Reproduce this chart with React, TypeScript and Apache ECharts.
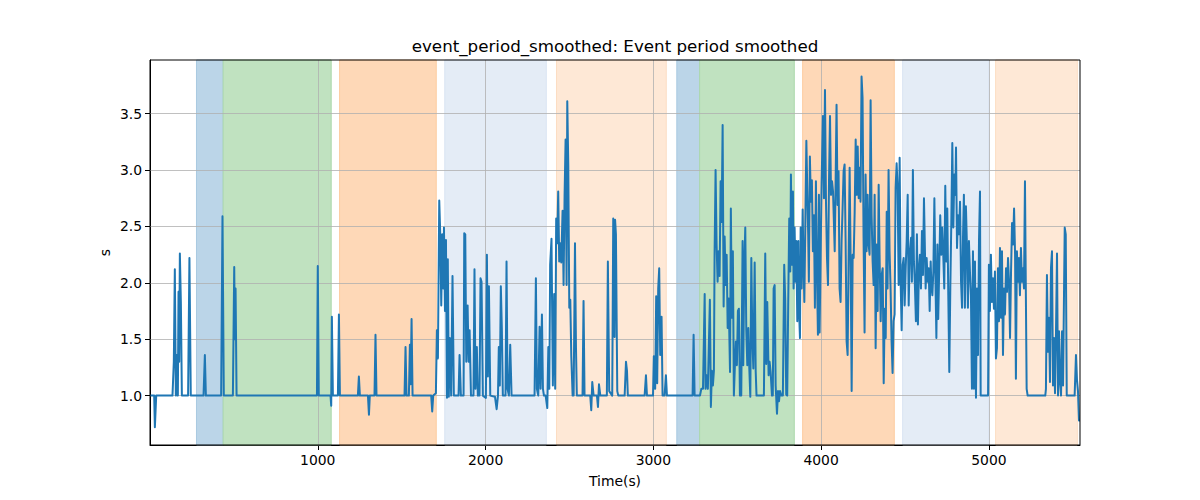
import React, { useEffect, useRef } from 'react';
import * as echarts from 'echarts';

const titleText = 'event_period_smoothed: Event period smoothed';
const xName = 'Time(s)';
const yName = 's';

const xTicks = [1000, 2000, 3000, 4000, 5000];
const yTicks = [1.0, 1.5, 2.0, 2.5, 3.0, 3.5];

const spanStart = [277, 436, 1130, 1757, 2423, 3140, 3276, 3890, 4486, 5040];
const spanEnd = [436, 1080, 1706, 2362, 3077, 3276, 3840, 4436, 5000, 5527];
const spanColor = ['#BBD5E8', '#C0E2C0', '#FED8B7', '#E4ECF6', '#FEE8D6', '#BBD5E8', '#C0E2C0', '#FED8B7', '#E4ECF6', '#FEE8D6'];
const spanEdge = ['#A9C9E1', '#ABD8AB', '#FDCB9F', '#D9E4F2', '#FCDDC3', '#A9C9E1', '#ABD8AB', '#FDCB9F', '#D9E4F2', '#FCDDC3'];

const early: [number, number][] = [
  [0, 1.0], [25, 1.0], [29, 0.72], [37, 1.0], [134, 1.0], [142, 1.3], [148, 2.12], [154, 1.0], [160, 1.36], [166, 1.0],
  [170, 1.92], [174, 1.3], [178, 2.26], [184, 1.82], [190, 1.0], [227, 1.0], [235, 2.22], [243, 1.0], [319, 1.0], [327, 1.36],
  [333, 1.0], [424, 1.0], [432, 2.59], [440, 1.0], [494, 1.0], [502, 2.14], [506, 1.5], [510, 1.95], [516, 1.0], [995, 1.0],
  [1000, 2.15], [1006, 1.0], [1076, 1.0], [1080, 0.91], [1084, 1.7], [1090, 1.0], [1120, 1.0], [1126, 1.72], [1132, 1.0],
  [1239, 1.0], [1245, 1.17], [1251, 1.0], [1299, 1.0], [1305, 0.83], [1310, 1.0], [1338, 1.0], [1344, 1.54], [1350, 1.0],
  [1517, 1.0], [1523, 1.43], [1529, 1.0], [1543, 1.0], [1549, 1.45], [1553, 1.1], [1559, 1.68], [1565, 1.0], [1676, 1.0],
  [1682, 0.86], [1688, 1.0], [1704, 1.02],
];

const burstA: [number, number][] = [
  [1710, 1.58], [1716, 1.33], [1724, 2.73], [1730, 2.43], [1736, 1.8], [1742, 2.43], [1748, 1.95], [1752, 2.49], [1758, 1.75],
  [1764, 2.38], [1770, 0.98], [1775, 2.21], [1781, 0.99], [1787, 1.51], [1795, 1.0], [1803, 2.06], [1811, 1.0], [1839, 1.0],
  [1845, 1.36], [1853, 1.0], [1869, 1.0], [1873, 2.44], [1879, 2.43], [1885, 1.3], [1893, 1.8], [1899, 1.3], [1905, 1.58],
  [1913, 1.0], [1928, 1.0], [1934, 2.12], [1940, 1.06], [1948, 1.43], [1954, 1.0], [1964, 1.0], [1970, 2.04], [1976, 2.01],
  [1984, 1.0], [2002, 0.98], [2008, 2.25], [2014, 1.17], [2020, 1.97], [2028, 1.0], [2056, 0.99], [2066, 0.88], [2074, 1.0],
  [2079, 1.43], [2085, 1.09], [2091, 1.97], [2097, 1.6], [2103, 1.0], [2119, 1.0], [2125, 2.19], [2131, 1.06], [2139, 1.0],
  [2147, 1.45], [2155, 1.0], [2292, 1.0], [2300, 2.04], [2306, 1.06], [2314, 1.0], [2322, 1.61], [2328, 1.06], [2336, 1.72],
  [2342, 1.06], [2348, 1.0], [2358, 1.0], [2368, 0.89], [2374, 1.43], [2380, 1.06], [2385, 2.16], [2393, 2.39], [2401, 1.09],
  [2409, 1.9], [2415, 1.06], [2421, 2.57], [2427, 2.35], [2433, 2.81], [2439, 2.19], [2445, 2.35], [2451, 2.18], [2459, 2.64],
  [2465, 1.98], [2471, 2.77], [2477, 3.27], [2483, 1.98], [2487, 3.61], [2493, 3.05], [2499, 1.78], [2505, 1.85], [2511, 1.35],
  [2519, 1.0], [2525, 1.0], [2533, 2.35], [2539, 1.42], [2544, 1.0],
];

const quietB: [number, number][] = [
  [2578, 1.0], [2584, 1.84], [2590, 1.0], [2624, 1.0], [2630, 0.87], [2636, 1.12], [2644, 1.0], [2664, 1.0], [2670, 0.9],
  [2676, 1.1], [2684, 1.0], [2723, 1.0], [2729, 2.19], [2737, 1.04], [2755, 1.0], [2761, 2.57], [2765, 2.43], [2769, 1.52],
  [2772, 2.56], [2777, 2.43], [2785, 1.04], [2791, 1.0], [2829, 1.0], [2837, 1.3], [2843, 1.22], [2848, 1.0], [2948, 1.0],
  [2956, 1.18], [2962, 1.0], [2998, 1.0], [3003, 1.35], [3011, 1.06], [3017, 1.88], [3023, 1.11], [3029, 1.95], [3035, 2.13],
  [3041, 1.36], [3049, 1.7], [3055, 1.0], [3067, 1.0], [3075, 1.18], [3081, 1.0], [3234, 1.0], [3240, 1.54], [3246, 1.0],
  [3278, 1.0], [3286, 1.06], [3296, 1.06], [3306, 1.9], [3311, 1.06], [3317, 1.18], [3325, 1.06],
];

const burstB: [number, number][] = [
  [3337, 1.85], [3343, 0.9], [3349, 1.22], [3355, 1.09], [3361, 1.22], [3365, 2.25], [3371, 3.0], [3377, 2.34], [3383, 2.01],
  [3389, 2.28], [3395, 2.06], [3401, 2.9], [3407, 2.54], [3413, 3.4], [3419, 1.79], [3425, 2.41], [3431, 1.98], [3437, 2.25],
  [3443, 1.6], [3449, 1.86], [3457, 1.21], [3462, 2.66], [3468, 1.69], [3474, 2.28], [3480, 1.0], [3486, 1.26], [3492, 1.48],
  [3498, 1.27], [3504, 1.75], [3510, 1.77], [3516, 1.0], [3524, 1.0], [3532, 2.37], [3536, 1.27], [3542, 2.15], [3548, 2.49],
  [3554, 1.58], [3560, 1.27], [3566, 1.6], [3572, 1.24], [3578, 0.99], [3584, 2.22], [3590, 1.51], [3596, 1.24], [3604, 2.18],
  [3610, 1.22], [3615, 1.0], [3659, 1.0], [3667, 2.26], [3673, 1.28], [3679, 1.83], [3687, 1.18], [3693, 1.3], [3699, 1.21],
  [3707, 1.0], [3712, 1.0], [3717, 1.95], [3723, 1.98], [3729, 1.09], [3737, 0.84], [3743, 1.04], [3749, 0.95], [3755, 1.04],
  [3763, 1.0], [3772, 1.0], [3780, 2.16], [3786, 1.85], [3792, 1.01], [3798, 1.0], [3804, 1.83], [3810, 2.57], [3816, 2.1],
  [3820, 2.96], [3826, 2.16], [3832, 2.81], [3836, 1.95], [3842, 2.49], [3848, 2.01], [3852, 2.37], [3858, 1.66], [3864, 2.37],
  [3868, 1.78], [3874, 1.51], [3878, 2.49], [3884, 1.95],
];

const dense: [number, number][] = [
  [3890, 2.65], [3894, 2.25], [3900, 1.83], [3906, 2.52], [3912, 3.26], [3918, 2.78], [3923, 2.43], [3927, 2.01], [3933, 3.12],
  [3939, 2.72], [3945, 2.91], [3951, 2.28], [3957, 2.6], [3963, 1.78], [3969, 2.9], [3975, 2.1], [3981, 1.54], [3987, 2.78],
  [3991, 1.56], [3997, 2.25], [4003, 2.89], [4011, 3.48], [4017, 2.75], [4023, 3.71], [4029, 2.72], [4035, 2.22], [4041, 1.98],
  [4047, 2.9], [4053, 3.48], [4059, 2.78], [4065, 2.9], [4071, 2.81], [4075, 2.6], [4081, 2.28], [4086, 2.84], [4092, 3.58],
  [4098, 2.69], [4104, 2.99], [4110, 1.95], [4116, 1.83], [4122, 2.37], [4128, 2.66], [4134, 2.99], [4140, 3.05], [4146, 2.37],
  [4152, 1.48], [4158, 1.36], [4164, 2.22], [4170, 3.02], [4176, 2.19], [4182, 1.04], [4188, 2.25], [4194, 2.22], [4200, 2.63],
  [4206, 3.27], [4212, 2.78], [4218, 3.21], [4224, 2.75], [4230, 3.02], [4235, 2.72], [4241, 3.83], [4247, 3.64], [4253, 2.4],
  [4259, 1.56], [4265, 2.96], [4271, 2.28], [4277, 2.78], [4283, 2.34], [4289, 2.25], [4295, 3.62], [4301, 2.6], [4307, 2.19],
  [4313, 1.98], [4319, 2.78], [4325, 1.42], [4331, 2.34], [4337, 1.75], [4343, 2.87], [4349, 2.19], [4355, 1.66], [4361, 2.07],
  [4367, 2.13], [4373, 1.11], [4379, 1.77], [4385, 1.51], [4391, 2.63], [4396, 1.95], [4402, 3.0], [4408, 2.28], [4414, 1.95],
  [4420, 1.48], [4426, 1.2], [4432, 1.66], [4438, 1.72], [4444, 2.84], [4450, 3.06], [4456, 2.84], [4462, 1.98], [4468, 3.11],
  [4474, 2.01], [4480, 1.58], [4486, 2.16], [4492, 2.22], [4498, 1.8], [4504, 2.13], [4510, 2.37], [4516, 2.78], [4522, 1.8],
  [4528, 2.25], [4536, 2.4], [4541, 2.01], [4547, 3.0], [4553, 2.19], [4559, 1.98], [4565, 1.66], [4571, 2.43], [4577, 1.63],
  [4583, 2.13], [4589, 2.25], [4595, 1.95], [4601, 2.46], [4607, 2.07], [4613, 2.75],
];

const tail: [number, number][] = [
  [4623, 1.95], [4629, 2.22], [4635, 2.01], [4641, 2.13], [4647, 1.75], [4653, 2.19], [4657, 1.98], [4663, 1.89], [4669, 2.1],
  [4675, 2.75], [4681, 2.07], [4687, 1.51], [4693, 2.34], [4698, 1.68], [4704, 2.13], [4710, 2.6], [4716, 2.25], [4722, 2.49],
  [4728, 2.25], [4734, 1.95], [4740, 2.86], [4746, 2.19], [4752, 2.66], [4758, 1.89], [4764, 1.21], [4770, 1.95], [4776, 2.54],
  [4782, 3.24], [4788, 2.49], [4794, 2.96], [4800, 2.78], [4804, 3.2], [4810, 2.31], [4816, 2.6], [4822, 2.43], [4828, 2.72],
  [4834, 2.01], [4840, 1.78], [4846, 2.43], [4851, 2.78], [4857, 1.78], [4863, 2.68], [4869, 2.34], [4875, 1.78], [4881, 2.37],
  [4887, 2.1], [4893, 1.89], [4899, 1.06], [4905, 2.28], [4911, 1.06], [4917, 2.19], [4923, 0.98], [4929, 1.95], [4935, 1.36],
  [4941, 2.37], [4947, 2.81], [4951, 1.0], [4995, 1.0], [5000, 2.16], [5006, 1.75], [5012, 2.25], [5018, 1.83], [5024, 2.04],
  [5030, 1.77], [5036, 2.1], [5042, 1.33], [5048, 1.42], [5054, 2.13], [5060, 1.66], [5066, 2.31], [5072, 1.69], [5078, 2.28],
  [5084, 1.36], [5090, 1.95], [5096, 1.72], [5102, 2.13], [5108, 1.92], [5114, 2.22], [5120, 2.01], [5126, 1.51], [5132, 2.1],
  [5138, 2.53], [5144, 2.34], [5150, 2.66], [5156, 2.25], [5161, 1.15], [5167, 2.28], [5173, 2.01], [5179, 2.22], [5185, 1.89],
  [5191, 2.31], [5197, 2.01], [5203, 2.13], [5209, 1.95], [5215, 2.9], [5221, 1.78], [5225, 1.06], [5231, 1.0], [5336, 1.0],
  [5340, 1.06], [5346, 2.07], [5352, 1.39], [5358, 1.69], [5364, 1.12], [5370, 2.13], [5376, 2.28], [5382, 1.09], [5388, 1.51],
  [5394, 1.02], [5400, 1.57], [5406, 2.26], [5412, 1.0], [5418, 1.57], [5424, 1.12], [5430, 1.0], [5436, 1.57], [5442, 1.09],
  [5448, 1.95], [5452, 2.49], [5458, 2.43], [5464, 1.0], [5511, 1.0], [5519, 1.36], [5525, 1.14], [5531, 1.04], [5537, 0.78],
  [5543, 0.78],
];

const X_MIN = 0;
const X_MAX = 5543;
const Y_MIN = 0.562;
const Y_MAX = 3.976;

const GRID = { left: 150, right: 120, top: 60, bottom: 55 };
const FONT = 'DejaVu Sans';

export default function App() {
  const ref = useRef<HTMLDivElement>(null);
  useEffect(() => {
    const chart = echarts.init(ref.current!, null, { renderer: 'svg' });
    const series = [...early, ...burstA, ...quietB, ...burstB, ...dense, ...tail];
    const areas = spanStart.map((s, i) => [
      { xAxis: s, itemStyle: { color: spanColor[i], borderColor: spanEdge[i], borderWidth: 1 } },
      { xAxis: spanEnd[i] },
    ]);
    const gridLines = [
      ...xTicks.map((v) => ({ xAxis: v })),
      ...yTicks.map((v) => ({ yAxis: v })),
    ];
    const plotW = 1200 - GRID.left - GRID.right;
    const plotH = 500 - GRID.top - GRID.bottom;
    chart.setOption({
      animation: false,
      backgroundColor: '#ffffff',
      grid: { ...GRID, containLabel: false },
      xAxis: {
        type: 'value',
        min: X_MIN,
        max: X_MAX,
        axisLine: { show: true, onZero: false, lineStyle: { color: '#000', width: 1 } },
        axisTick: { show: true, length: 5, customValues: xTicks, lineStyle: { color: '#000', width: 1 } },
        axisLabel: {
          customValues: xTicks,
          color: '#000',
          fontSize: 13.9,
          fontFamily: FONT,
          margin: 8,
          formatter: (v: number) => String(Math.round(v)),
        },
        splitLine: { show: false },
      },
      yAxis: {
        type: 'value',
        min: Y_MIN,
        max: Y_MAX,
        axisLine: { show: true, onZero: false, lineStyle: { color: '#000', width: 1 } },
        axisTick: { show: true, length: 5, customValues: yTicks, lineStyle: { color: '#000', width: 1 } },
        axisLabel: {
          customValues: yTicks,
          color: '#000',
          fontSize: 13.9,
          fontFamily: FONT,
          margin: 8,
          formatter: (v: number) => v.toFixed(1),
        },
        splitLine: { show: false },
      },
      series: [
        {
          type: 'line',
          data: [],
          z: 1,
          silent: true,
          markArea: { silent: true, z: 1, data: areas },
        },
        {
          type: 'line',
          data: [],
          z: 2,
          silent: true,
          markLine: {
            silent: true,
            z: 2,
            symbol: ['none', 'none'],
            label: { show: false },
            lineStyle: { color: '#b0b0b0', width: 0.8, type: 'solid' },
            emphasis: { disabled: true },
            data: gridLines,
          },
        },
        {
          type: 'line',
          data: series,
          z: 3,
          showSymbol: false,
          symbol: 'none',
          clip: true,
          lineStyle: { color: '#1f77b4', width: 2, join: 'round' },
        },
      ],
      graphic: [
        {
          type: 'rect',
          z: 100,
          silent: true,
          shape: { x: GRID.left, y: GRID.top, width: plotW, height: plotH },
          style: { fill: 'none', stroke: '#000', lineWidth: 1 },
        },
        {
          type: 'text',
          x: GRID.left + plotW / 2,
          y: 46,
          style: { text: titleText, fontSize: 16.7, fontFamily: FONT, fill: '#000', textAlign: 'center', textVerticalAlign: 'middle' },
        },
        {
          type: 'text',
          x: GRID.left + plotW / 2,
          y: 481,
          style: { text: xName, fontSize: 13.9, fontFamily: FONT, fill: '#000', textAlign: 'center', textVerticalAlign: 'middle' },
        },
        {
          type: 'text',
          x: 105,
          y: GRID.top + plotH / 2,
          rotation: Math.PI / 2,
          style: { text: yName, fontSize: 13.9, fontFamily: FONT, fill: '#000', textAlign: 'center', textVerticalAlign: 'middle' },
        },
      ],
    });
    return () => chart.dispose();
  }, []);
  return (
    <div
      ref={ref}
      style={{ position: 'fixed', left: 0, top: 0, width: 1200, height: 500, background: '#fff' }}
    />
  );
}
